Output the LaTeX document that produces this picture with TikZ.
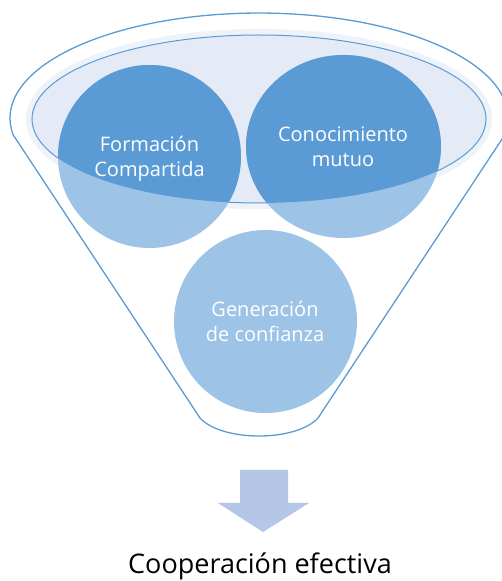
\documentclass[tikz,border=0pt]{standalone}
\usepackage{fontspec}
\setmainfont{Open Sans}
\usetikzlibrary{shapes.geometric}
\definecolor{fdark}{RGB}{91,155,213}
\definecolor{clight}{RGB}{157,195,230}
\definecolor{rimfill}{RGB}{228,235,246}
\definecolor{rimglow}{RGB}{238,243,250}
\definecolor{arrowc}{RGB}{180,199,231}
\begin{document}
\begin{tikzpicture}[x=1pt,y=1pt,
  funnelline/.style={draw=fdark,line width=1.3pt,line join=round},
  rimline/.style={draw=fdark,line width=1pt},
  lightcircle/.style={circle,fill=clight,draw=none,inner sep=0pt,minimum size=183pt},
  lightoval/.style={ellipse,fill=clight,draw=none,inner sep=0pt,minimum width=195pt,minimum height=183pt},
  ctext/.style={anchor=base,text=white,font=\fontsize{20}{25}\selectfont,inner sep=0pt},
  restext/.style={anchor=base,text=black,font=\fontsize{27}{32}\selectfont,inner sep=0pt}]
\useasboundingbox (0,0) rectangle (502,581);
\fill[white] (0,0) rectangle (502,581);
% outer funnel outline
\draw[funnelline] (318,163) -- (504.7,446)
  arc[start angle=-9.3,end angle=189.3,x radius=249,y radius=105]
  -- (200,163) .. controls (222,139) and (296,139) .. (318,163) -- cycle;
% rim with glow
\draw[draw=rimglow,line width=12pt] (259,462) ellipse[x radius=227,y radius=84];
\draw[rimline,fill=rimfill] (259,462) ellipse[x radius=227,y radius=84];
% circles (light)
\node[lightcircle] (A) at (149.5,424.5) {};
\node[lightoval] (B) at (343.5,434.5) {};
\node[lightcircle] (C) at (265.5,259.5) {};
% dark parts inside the rim
\begin{scope}
  \clip (259,462) ellipse[x radius=227,y radius=84];
  \fill[fdark] (A.center) circle[radius=91.5];
  \fill[fdark] (B.center) ellipse[x radius=97.5,y radius=91.5];
\end{scope}
% texts
\node[ctext] (A1) at (149.5,429) {Formación};
\node[ctext] (A2) at (149.5,404) {Compartida};
\node[ctext] (B1) at (343,439) {Conocimiento};
\node[ctext] (B2) at (343,414) {mutuo};
\node[ctext] (C1) at (265,264) {Generación};
\node[ctext] (C2) at (265,239) {de confianza};
% arrow
\fill[arrowc] (240,111) -- (288,111) -- (288,78) -- (309,78) -- (263,49) -- (218,78) -- (240,78) -- cycle;
\node[restext] (R) at (260,7.5) {Cooperación efectiva};
\end{tikzpicture}
\end{document}
